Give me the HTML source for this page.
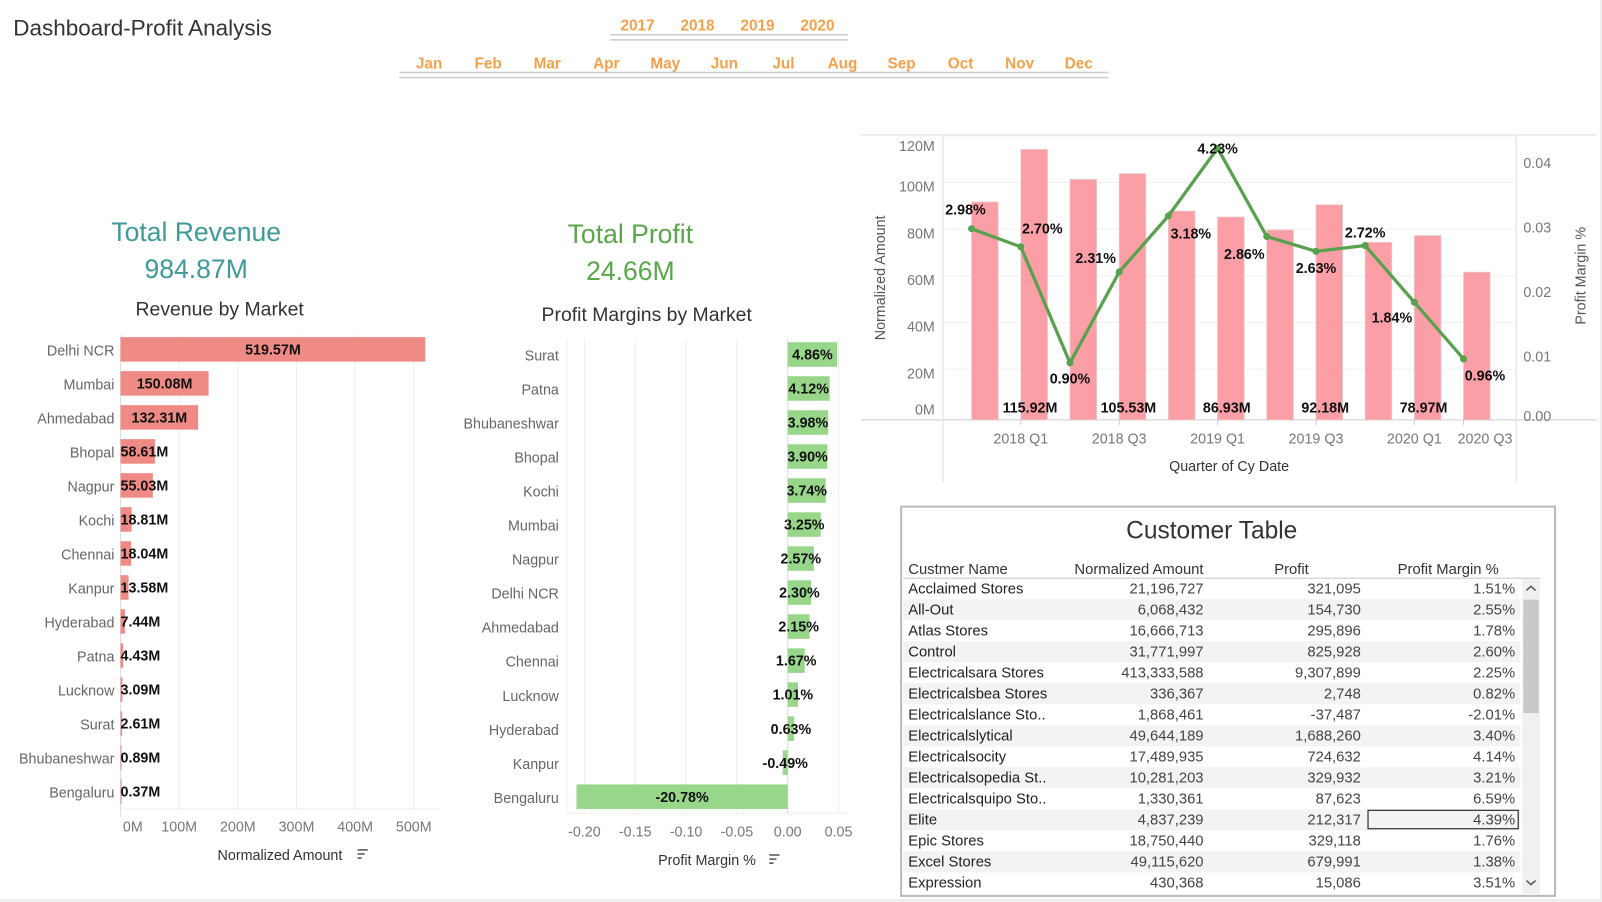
<!DOCTYPE html>
<html><head><meta charset="utf-8">
<style>
html,body{margin:0;padding:0;background:#fff;overflow:hidden}
svg{display:block;font-family:"Liberation Sans",sans-serif}
</style></head>
<body>
<svg id="dash" width="1602" height="902" viewBox="0 0 1568 883" preserveAspectRatio="none" xmlns="http://www.w3.org/2000/svg">
<rect x="0" y="0" width="1568" height="883" fill="#fff"/>
<text x="13" y="35" font-size="22" fill="#333">Dashboard-Profit Analysis</text>
<g id="filters" font-size="15" font-weight="bold" fill="#f5a04a"></g>
<line x1="597" y1="34" x2="830" y2="34" stroke="#ccc" stroke-width="1.5"/>
<line x1="597" y1="39" x2="830" y2="39" stroke="#ccc" stroke-width="1.5"/>
<line x1="391" y1="71" x2="1085" y2="71" stroke="#ccc" stroke-width="1.5"/>
<line x1="391" y1="76" x2="1085" y2="76" stroke="#ccc" stroke-width="1.5"/>

<text x="192" y="236" font-size="26" fill="#3e9a98" text-anchor="middle">Total Revenue</text>
<text x="192" y="272" font-size="26" fill="#3e9a98" text-anchor="middle">984.87M</text>
<text x="215" y="309" font-size="19" fill="#333" text-anchor="middle">Revenue by Market</text>
<g id="rev"></g>

<text x="617" y="238" font-size="26" fill="#5aa64a" text-anchor="middle">Total Profit</text>
<text x="617" y="274" font-size="26" fill="#5aa64a" text-anchor="middle">24.66M</text>
<text x="633" y="314" font-size="19" fill="#333" text-anchor="middle">Profit Margins by Market</text>
<g id="pm"></g>

<g id="combo"></g>
<g id="table"></g>
</svg>
<script>
var NS="http://www.w3.org/2000/svg";
function mk(parent,tag,attrs,txt){var e=document.createElementNS(NS,tag);for(var k in attrs)e.setAttribute(k,attrs[k]);if(txt!==undefined)e.textContent=txt;parent.appendChild(e);return e;}
var svg=document.getElementById('dash');

// ---------- filters ----------
var years=["2017","2018","2019","2020"];
var months=["Jan","Feb","Mar","Apr","May","Jun","Jul","Aug","Sep","Oct","Nov","Dec"];
var fg=document.getElementById('filters');
years.forEach(function(y,i){var t=mk(fg,'text',{x:624+i*58.7,y:30,'text-anchor':'middle'},y);

});
months.forEach(function(m,i){var t=mk(fg,'text',{x:420+i*57.8,y:67,'text-anchor':'middle'},m);

});

// ---------- Revenue by Market ----------
var revMarkets=["Delhi NCR","Mumbai","Ahmedabad","Bhopal","Nagpur","Kochi","Chennai","Kanpur","Hyderabad","Patna","Lucknow","Surat","Bhubaneshwar","Bengaluru"];
var revValues=[519.57,150.08,132.31,58.61,55.03,18.81,18.04,13.58,7.44,4.43,3.09,2.61,0.89,0.37];
var revTicks=[0,100,200,300,400,500];
(function(){
 var g=document.getElementById('rev');
 var x0=118,sc=0.574,y0=342,dy=33.3;
 function X(v){return x0+v*sc;}
 revTicks.forEach(function(t){
  mk(g,'line',{x1:X(t),y1:328,x2:X(t),y2:792,stroke:'#eee'});
  var tl=mk(g,'text',{x:X(t)+(t==0?12:0),y:814,'font-size':14,fill:'#777','text-anchor':'middle'},t+'M');
  
  
 });
 mk(g,'line',{x1:x0,y1:792,x2:430,y2:792,stroke:'#eee'});
 mk(g,'line',{x1:x0,y1:328,x2:x0,y2:800,stroke:'#ddd'});
 revMarkets.forEach(function(m,i){
  var y=y0+i*dy,w=revValues[i]*sc;
  var b=mk(g,'rect',{x:x0,y:y-12,width:Math.max(w,1),height:24,fill:'#f08a85'});
  
  
  var lab=mk(g,'text',{x:112,y:y+6,'font-size':14,fill:'#666','text-anchor':'end'},m);
  
  
  var txt=revValues[i].toFixed(2)+'M';var lw=txt.length*8.2;
  var cx=x0+w/2,vl;
  if(w>lw+6) vl=mk(g,'text',{x:cx,y:y+5,'font-size':14,'font-weight':'bold',fill:'#111','text-anchor':'middle'},txt);
  else vl=mk(g,'text',{x:x0,y:y+5,'font-size':14,'font-weight':'bold',fill:'#111'},txt);
  
  
 });
 var at=mk(g,'text',{x:274,y:842,'font-size':14,fill:'#333','text-anchor':'middle'},'Normalized Amount');
 
 
 mk(g,'path',{d:'M350 832h10M350 836h7M350 840h4',stroke:'#555','stroke-width':1.5});
})();

// ---------- Profit Margins by Market ----------
var pmMarkets=["Surat","Patna","Bhubaneshwar","Bhopal","Kochi","Mumbai","Nagpur","Delhi NCR","Ahmedabad","Chennai","Lucknow","Hyderabad","Kanpur","Bengaluru"];
var pmValues=[4.86,4.12,3.98,3.90,3.74,3.25,2.57,2.30,2.15,1.67,1.01,0.63,-0.49,-20.78];
var pmTicks=[-0.20,-0.15,-0.10,-0.05,0.00,0.05];
(function(){
 var g=document.getElementById('pm');
 var x0=771,sc=9.95,y0=347,dy=33.3;
 function X(pct){return x0+pct*sc;}
 pmTicks.forEach(function(t){
  mk(g,'line',{x1:X(t*100),y1:332,x2:X(t*100),y2:796,stroke:'#eee'});
  var tl=mk(g,'text',{x:X(t*100),y:819,'font-size':14,fill:'#777','text-anchor':'middle'},t.toFixed(2));
  
  
 });
 mk(g,'line',{x1:555,y1:796,x2:830,y2:796,stroke:'#eee'});
 mk(g,'line',{x1:555,y1:332,x2:555,y2:796,stroke:'#eee'});
 pmMarkets.forEach(function(m,i){
  var y=y0+i*dy,v=pmValues[i];
  var xa=Math.min(X(v),x0),w=Math.abs(v*sc);
  var b=mk(g,'rect',{x:xa,y:y-12,width:w,height:24,fill:'#98d68a'});
  
  
  var lab=mk(g,'text',{x:547,y:y+6,'font-size':14,fill:'#666','text-anchor':'end'},m);
  
  
  var vl=mk(g,'text',{x:xa+w/2,y:y+5,'font-size':14,'font-weight':'bold',fill:'#111','text-anchor':'middle'},v.toFixed(2)+'%');
  
  
 });
 mk(g,'line',{x1:x0,y1:332,x2:x0,y2:796,stroke:'#bbb','stroke-dasharray':'1,2'});
 var at=mk(g,'text',{x:692,y:847,'font-size':14,fill:'#333','text-anchor':'middle'},'Profit Margin %');
 
 
 mk(g,'path',{d:'M753 837h10M753 841h7M753 845h4',stroke:'#555','stroke-width':1.5});
})();

// ---------- Combo chart ----------
var quarters=["2017 Q4","2018 Q1","2018 Q2","2018 Q3","2018 Q4","2019 Q1","2019 Q2","2019 Q3","2019 Q4","2020 Q1","2020 Q3"];
var amounts=[93.4,115.92,103.1,105.53,89.5,86.93,81.4,92.18,76.1,78.97,63.3];
var margins=[2.98,2.70,0.90,2.31,3.18,4.23,2.86,2.63,2.72,1.84,0.96];
var amountTicks=[0,20,40,60,80,100,120];
var marginTicks=[0.00,0.01,0.02,0.03,0.04];
var xTickIdx=[1,3,5,7,9,10];
(function(){
 var g=document.getElementById('combo');
 var base=411,ysc=274/120,mBase=412,msc=63.1;
 function X(i){return 964+i*48.15;}
 function XP(i){return X(i)-13;}
 function Y(v){return base-v*ysc;}
 function YM(p){return mBase-p*msc;}
 mk(g,'line',{x1:843,y1:132,x2:1563,y2:132,stroke:'#ddd'});
 mk(g,'line',{x1:843,y1:411,x2:1563,y2:411,stroke:'#ccc'});
 mk(g,'line',{x1:923,y1:132,x2:923,y2:472,stroke:'#ddd'});
 mk(g,'line',{x1:1484,y1:132,x2:1484,y2:472,stroke:'#ddd'});
 amountTicks.forEach(function(t){
  if(t>0) mk(g,'line',{x1:923,y1:Y(t)-4,x2:1484,y2:Y(t)-4,stroke:'#f0f0f0'});
  var tl=mk(g,'text',{x:915,y:Y(t)+(t==0?-5:(t==120?11:5)),'font-size':14,fill:'#777','text-anchor':'end'},t+'M');
  
  
 });
 marginTicks.forEach(function(t){
  var tl=mk(g,'text',{x:1491,y:YM(t*100)+5-(t==0?5:0),'font-size':14,fill:'#777'},t.toFixed(2));
  
  
 });
 quarters.forEach(function(q,i){
  var h=amounts[i]*ysc;
  var b=mk(g,'rect',{x:X(i)-13,y:base-h,width:26,height:h,fill:'#fc9ea5',stroke:'#e6c8ca','stroke-width':0.8});
  
  
  if(i%2==1){
   var vl=mk(g,'text',{x:X(i)-4,y:404,'font-size':14,'font-weight':'bold',fill:'#111','text-anchor':'middle'},amounts[i].toFixed(2)+'M');
   
   
  }
 });
 xTickIdx.forEach(function(i){
  mk(g,'line',{x1:XP(i),y1:411,x2:XP(i),y2:416,stroke:'#ccc'});
  var tl=mk(g,'text',{x:XP(i)+(i==10?21:0),y:434,'font-size':14,fill:'#777','text-anchor':'middle'},quarters[i]);
  
  
 });
 var pts=margins.map(function(m,i){return XP(i)+','+YM(m);}).join(' ');
 var ln=mk(g,'polyline',{points:pts,fill:'none',stroke:'#59a14f','stroke-width':3.2,'stroke-linejoin':'round'});
 
 
 var offs=[[-6,-14],[21,-13],[0,20],[-23,-9],[22,22],[0,5],[-22,22],[0,21],[0,-8],[-22,20],[21,21]];
 margins.forEach(function(m,i){
  var c=mk(g,'circle',{cx:XP(i),cy:YM(m),r:3.5,fill:'#59a14f'});
  
  
  var o=offs[i];
  var t=mk(g,'text',{x:XP(i)+o[0],y:YM(m)+o[1],'font-size':14,'font-weight':'bold',fill:'#111','text-anchor':'middle'},m.toFixed(2)+'%');
  
  
 });
 var yt=mk(g,'text',{x:0,y:0,'font-size':14,fill:'#555','text-anchor':'middle',transform:'translate(866,272) rotate(-90)'},'Normalized Amount');
 
 
 var yt2=mk(g,'text',{x:0,y:0,'font-size':14,fill:'#555','text-anchor':'middle',transform:'translate(1552,270) rotate(-90)'},'Profit Margin %');
 
 
 var xt=mk(g,'text',{x:1203,y:461,'font-size':14,fill:'#333','text-anchor':'middle'},'Quarter of Cy Date');
 
 
})();

// ---------- Customer table ----------
var custNames=["Acclaimed Stores","All-Out","Atlas Stores","Control","Electricalsara Stores","Electricalsbea Stores","Electricalslance Sto..","Electricalslytical","Electricalsocity","Electricalsopedia St..","Electricalsquipo Sto..","Elite","Epic Stores","Excel Stores","Expression"];
var custAmounts=["21,196,727","6,068,432","16,666,713","31,771,997","413,333,588","336,367","1,868,461","49,644,189","17,489,935","10,281,203","1,330,361","4,837,239","18,750,440","49,115,620","430,368"];
var custProfit=["321,095","154,730","295,896","825,928","9,307,899","2,748","-37,487","1,688,260","724,632","329,932","87,623","212,317","329,118","679,991","15,086"];
var custMargin=["1.51%","2.55%","1.78%","2.60%","2.25%","0.82%","-2.01%","3.40%","4.14%","3.21%","6.59%","4.39%","1.76%","1.38%","3.51%"];
(function(){
 var g=document.getElementById('table');
 var box=mk(g,'rect',{x:882,y:496,width:640,height:381,fill:'#fff',stroke:'#bbb','stroke-width':2});
 
 
 var tt=mk(g,'text',{x:1186,y:527,'font-size':24,fill:'#333','text-anchor':'middle'},'Customer Table');
 
 
 var hdr=[["Custmer Name",889,'start'],["Normalized Amount",1178,'end'],["Profit",1281,'end'],["Profit Margin %",1467,'end']];
 hdr.forEach(function(h){var t=mk(g,'text',{x:h[1],y:562,'font-size':14.5,fill:'#333','text-anchor':h[2]},h[0]);
  
  });
 mk(g,'line',{x1:884,y1:566,x2:1508,y2:566,stroke:'#ccc'});
 custNames.forEach(function(n,i){
  var y=576+i*20.57;
  if(i%2==1) mk(g,'rect',{x:884,y:y-10,width:604,height:20.57,fill:'#f3f3f3'});
  var r=mk(g,'text',{x:889,y:y+5,'font-size':14.5,fill:'#222'},n);
  
  
  var a=mk(g,'text',{x:1178,y:y+5,'font-size':14.5,fill:'#444','text-anchor':'end'},custAmounts[i]);
  
  
  var p=mk(g,'text',{x:1332,y:y+5,'font-size':14.5,fill:'#444','text-anchor':'end'},custProfit[i]);
  
  
  var m=mk(g,'text',{x:1483,y:y+5,'font-size':14.5,fill:'#444','text-anchor':'end'},custMargin[i]);
  
  
  if(n==="Elite") mk(g,'rect',{x:1339,y:y-9,width:147,height:18,fill:'none',stroke:'#333','stroke-width':1.2});
 });
 var sb=mk(g,'rect',{x:1490,y:567,width:17,height:308,fill:'#f0f0f0'});
 
 
 mk(g,'rect',{x:1491,y:587,width:15,height:111,fill:'#c8c8c8'});
 mk(g,'path',{d:'M1494 578l4.5-4 4.5 4',fill:'none',stroke:'#555','stroke-width':1.5});
 mk(g,'path',{d:'M1494 862l4.5 4 4.5-4',fill:'none',stroke:'#555','stroke-width':1.5});
 mk(g,'rect',{x:1566,y:0,width:2,height:883,fill:'#eee'});
 mk(g,'rect',{x:0,y:880,width:1568,height:3,fill:'#eee'});
})();
</script>
</body></html>
